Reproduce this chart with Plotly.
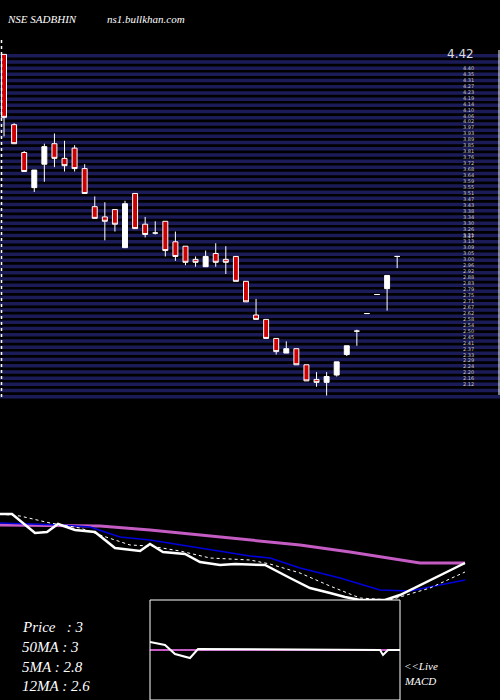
import plotly.graph_objects as go

# ---- candles (price units) ----
opens  = [4.39,3.91,3.72,3.48,3.64,3.78,3.68,3.75,3.61,3.35,3.28,3.33,3.07,3.44,3.23,3.17,3.25,3.11,3.08,2.99,2.94,3.03,2.99,3.01,2.84,2.61,2.58,2.45,2.35,2.38,2.27,2.17,2.15,2.20,2.34,2.50,2.62,2.75,2.79,3.01]
closes = [3.96,3.78,3.59,3.60,3.76,3.68,3.63,3.61,3.44,3.27,3.25,3.23,3.37,3.20,3.16,3.17,3.05,3.01,2.97,2.97,3.01,2.97,2.97,2.84,2.70,2.58,2.45,2.36,2.38,2.27,2.16,2.15,2.19,2.29,2.40,2.50,2.62,2.75,2.88,3.01]
highs  = [4.39,3.92,3.73,3.60,3.78,3.85,3.80,3.77,3.64,3.42,3.38,3.33,3.39,3.44,3.28,3.25,3.25,3.18,3.08,3.01,3.05,3.10,3.08,3.01,2.84,2.72,2.58,2.45,2.43,2.38,2.27,2.22,2.22,2.29,2.40,2.51,2.62,2.75,2.88,3.01]
lows   = [3.83,3.78,3.59,3.45,3.52,3.62,3.59,3.59,3.44,3.27,3.12,3.18,3.07,3.20,3.14,3.16,3.01,2.98,2.95,2.94,2.99,2.94,2.89,2.84,2.70,2.58,2.45,2.34,2.35,2.27,2.16,2.12,2.06,2.19,2.33,2.40,2.62,2.75,2.64,2.93]
days = list(range(len(opens)))

# ---- moving-average panel (level units) ----
px_day = [0,12,35,47,58,75,95,115,140,150,163,185,200,220,235,265,290,310,330,345,360,385,400,465]
px_val = [86,86,67,68,76,70,68,52,49,56,48,46,38,35,36,35,22,12,7,3,0,0,5,37]
ma5_day = [0,20,50,80,100,130,150,180,210,250,270,300,330,360,390,430,465]
ma5_val = [86,84,77,72,65,55,54,49,42,40,36,27,14,2,0,12,28]
ma12_day = [0,60,90,120,150,200,250,270,300,340,380,410,465]
ma12_val = [77,75,73,63,60,52,44,42,32,22,10,9,20]
ma50_day = [0,100,150,200,250,300,350,400,420,465]
ma50_val = [75,74,70,65,60,55,48,40,37,37]

# ---- MACD panel ----
macd_day = [0,15,25,40,48,230,233,238,250]
macd_val = [58,55,46,42,51,50,45,50,50]
sig_day = [0,250]
sig_val = [50,50]

tick_labels = ["4.42","4.40","4.35","4.31","4.27","4.23","4.19","4.14","4.10","4.06","4.02","3.97","3.93",
               "3.89","3.85","3.81","3.76","3.72","3.68","3.64","3.59","3.55","3.51","3.47","3.43","3.38",
               "3.34","3.30","3.26","3.21","3.17","3.13","3.09","3.05","3.00","2.96","2.92","2.88","2.83",
               "2.79","2.75","2.71","2.67","2.62","2.58","2.54","2.50","2.45","2.41","2.37","2.33","2.29",
               "2.24","2.20","2.16","2.12"]

fig = go.Figure()
fig.add_trace(go.Candlestick(x=days, open=opens, high=highs, low=lows, close=closes,
    increasing=dict(line=dict(color="white", width=1), fillcolor="white"),
    decreasing=dict(line=dict(color="white", width=1), fillcolor="#cc0000"),
    whiskerwidth=0, xaxis="x", yaxis="y", showlegend=False))

fig.add_trace(go.Scatter(x=ma50_day, y=ma50_val, mode="lines", line=dict(color="#c45cc4", width=3), xaxis="x2", yaxis="y2", showlegend=False))
fig.add_trace(go.Scatter(x=ma12_day, y=ma12_val, mode="lines", line=dict(color="#0000dd", width=1.6), xaxis="x2", yaxis="y2", showlegend=False))
fig.add_trace(go.Scatter(x=ma5_day, y=ma5_val, mode="lines", line=dict(color="white", width=1, dash="dot"), xaxis="x2", yaxis="y2", showlegend=False))
fig.add_trace(go.Scatter(x=px_day, y=px_val, mode="lines", line=dict(color="white", width=2.5), xaxis="x2", yaxis="y2", showlegend=False))

fig.add_trace(go.Scatter(x=sig_day, y=sig_val, mode="lines", line=dict(color="#c45cc4", width=2), xaxis="x3", yaxis="y3", showlegend=False))
fig.add_trace(go.Scatter(x=macd_day, y=macd_val, mode="lines", line=dict(color="white", width=2), xaxis="x3", yaxis="y3", showlegend=False))

H = 700.0
def py(p):  # pixel y -> paper
    return 1 - p / H

shapes = []
y = 54.0
while y < 396:
    shapes.append(dict(type="rect", xref="paper", yref="paper", x0=0, x1=1, y0=py(y + 3.5), y1=py(y),
                       fillcolor="#1b1b58", line=dict(width=0), layer="below"))
    y += 6.2
shapes.append(dict(type="line", xref="paper", yref="paper", x0=0.003, x1=0.003, y0=py(40), y1=py(400),
                   line=dict(color="white", width=1.5, dash="dot")))
shapes.append(dict(type="line", xref="paper", yref="paper", x0=0.998, x1=0.998, y0=py(50), y1=py(395),
                   line=dict(color="white", width=1)))
shapes.append(dict(type="rect", xref="paper", yref="paper", x0=150/500, x1=400/500, y0=py(700), y1=py(600),
                   line=dict(color="white", width=1)))

ann = []
serif = "Liberation Serif"
ann.append(dict(text="<i>NSE SADBHIN</i>", x=5, y=py(11), xref="x2", yref="paper", showarrow=False, xanchor="left",
                font=dict(family=serif, size=11, color="white")))
ann.append(dict(text="<i>ns1.bullkhan.com</i>", x=105, y=py(11), xref="x2", yref="paper", showarrow=False, xanchor="left",
                font=dict(family=serif, size=11, color="white")))
for i, t in enumerate(tick_labels):
    yy = 45 if i == 0 else 57 + i * 5.95
    ann.append(dict(text=t, x=0.952, y=py(yy), xref="paper", yref="paper", showarrow=False, xanchor="right",
                    font=dict(family="DejaVu Sans", size=12 if i == 0 else 5, color="#dddddd" if i == 0 else "#c8c8c8")))
for t, yy in [("Price   : 3", 627), ("50MA : 3", 647), ("5MA : 2.8", 667), ("12MA : 2.6", 686)]:
    ann.append(dict(text="<i>" + t + "</i>", x=20/500, y=py(yy), xref="paper", yref="paper", showarrow=False, xanchor="left",
                    yanchor="middle", font=dict(family=serif, size=15, color="white")))
ann.append(dict(text="<i>&lt;&lt;Live</i>", x=402/500, y=py(666), xref="paper", yref="paper", showarrow=False, xanchor="left",
                yanchor="middle", font=dict(family=serif, size=11, color="white")))
ann.append(dict(text="<i>MACD</i>", x=402/500, y=py(681), xref="paper", yref="paper", showarrow=False, xanchor="left",
                yanchor="middle", font=dict(family=serif, size=11, color="white")))

ax = dict(showgrid=False, zeroline=False, showticklabels=False, visible=False, fixedrange=True)
fig.update_layout(
    width=500, height=700, margin=dict(l=0, r=0, t=0, b=0),
    paper_bgcolor="black", plot_bgcolor="rgba(0,0,0,0)",
    xaxis=dict(**ax, domain=[0, 1], range=[-0.4, 49.2], rangeslider=dict(visible=False)),
    yaxis=dict(**ax, domain=[py(400), 1], range=[2.0295, 4.7615]),
    xaxis2=dict(**ax, domain=[0, 1], range=[0, 500], anchor="y2"),
    yaxis2=dict(**ax, domain=[py(600), py(500)], range=[0, 100], anchor="x2"),
    xaxis3=dict(**ax, domain=[150/500, 400/500], range=[0, 250], anchor="y3"),
    yaxis3=dict(**ax, domain=[0, py(600)], range=[0, 100], anchor="x3"),
    shapes=shapes, annotations=ann,
)
fig.write_html("out.html", config={"displayModeBar": False},
               post_script="document.body.style.margin='0';document.body.style.padding='0';document.body.style.background='black';")
